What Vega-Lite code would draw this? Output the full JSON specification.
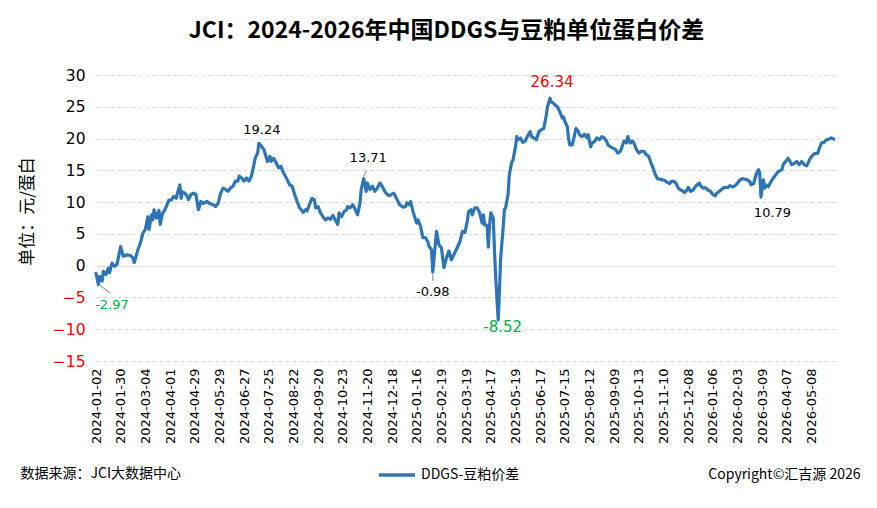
{
"$schema": "https://vega.github.io/schema/vega-lite/v6.json",
"width": 739,
"height": 286,
"autosize": {"type": "none"},
"padding": {"left": 96, "top": 75, "right": 42, "bottom": 147},
"background": "white",
"title": {"text": "JCI：2024-2026年中国DDGS与豆粕单位蛋白价差", "font": "Noto Sans CJK SC", "fontSize": 23, "fontWeight": "bold", "color": "#000000", "anchor": "middle", "dx": -19, "offset": 25},
"config": {"view": {"stroke": null},
 "axisY": {"values": [-15,-10,-5,0,5,10,15,20,25,30], "labelOverlap": false, "labelSeparation": -30, "labelFont": "DejaVu Sans", "labelFontSize": 15.5,
 "labelPadding": 11, "ticks": false, "domain": false, "grid": true, "gridColor": "#D9D9D9", "gridWidth": 1,
 "titleFont": "Noto Sans CJK SC", "titleFontSize": 17, "titleFontWeight": "normal", "titleColor": "#000000", "titleX": -69, "titleY": 136, "titleBaseline": "middle", "titleAlign": "center"}},
"resolve": {"axis": {"x": "independent"}},
"layer": [
{
"data": {"values": [
{"t":0,"v":-1.2},{"t":2,"v":-2.97},{"t":3,"v":-1.7},{"t":5,"v":-2.4},{"t":6,"v":-0.9},{"t":8,"v":-1.4},{"t":10,"v":-0.4},{"t":11,"v":-1.1},{"t":13,"v":0.4},{"t":15,"v":-0.1},{"t":17,"v":0.2},{"t":20,"v":3.0},{"t":22,"v":1.5},{"t":25,"v":1.7},{"t":28,"v":1.6},{"t":30,"v":1.2},{"t":31,"v":0.5},{"t":34,"v":2.5},{"t":36,"v":3.6},{"t":38,"v":5.1},{"t":40,"v":5.7},{"t":42,"v":7.7},{"t":43,"v":5.7},{"t":45,"v":8.0},{"t":46,"v":7.2},{"t":47,"v":8.8},{"t":49,"v":7.5},{"t":51,"v":8.7},{"t":52,"v":6.5},{"t":54,"v":8.3},{"t":55,"v":8.5},{"t":57,"v":9.3},{"t":59,"v":10.3},{"t":61,"v":10.3},{"t":63,"v":10.9},{"t":65,"v":10.6},{"t":66,"v":11.4},{"t":68,"v":12.7},{"t":69,"v":10.6},{"t":70,"v":11.6},{"t":72,"v":11.4},{"t":74,"v":10.9},{"t":75,"v":10.4},{"t":77,"v":11.2},{"t":79,"v":11.4},{"t":81,"v":11.2},{"t":83,"v":8.8},{"t":85,"v":10.1},{"t":87,"v":9.8},{"t":90,"v":10.1},{"t":92,"v":9.8},{"t":95,"v":9.6},{"t":97,"v":9.3},{"t":99,"v":9.8},{"t":101,"v":11.4},{"t":103,"v":12.2},{"t":105,"v":12.0},{"t":107,"v":11.7},{"t":109,"v":12.2},{"t":111,"v":12.5},{"t":113,"v":13.3},{"t":115,"v":13.3},{"t":116,"v":14.1},{"t":118,"v":13.8},{"t":120,"v":13.3},{"t":122,"v":13.8},{"t":124,"v":13.3},{"t":126,"v":14.1},{"t":128,"v":15.9},{"t":129,"v":16.9},{"t":131,"v":17.7},{"t":132,"v":19.24},{"t":134,"v":18.8},{"t":136,"v":18.3},{"t":137,"v":17.7},{"t":139,"v":16.4},{"t":141,"v":17.2},{"t":142,"v":16.4},{"t":144,"v":16.9},{"t":146,"v":16.2},{"t":148,"v":15.4},{"t":150,"v":15.6},{"t":152,"v":14.6},{"t":155,"v":13.5},{"t":157,"v":12.7},{"t":159,"v":12.5},{"t":161,"v":11.2},{"t":163,"v":10.1},{"t":165,"v":9.1},{"t":168,"v":8.4},{"t":170,"v":8.8},{"t":171,"v":8.6},{"t":174,"v":10.1},{"t":175,"v":10.6},{"t":177,"v":10.4},{"t":178,"v":9.1},{"t":180,"v":9.3},{"t":182,"v":8.3},{"t":184,"v":7.7},{"t":186,"v":7.2},{"t":188,"v":7.5},{"t":190,"v":7.3},{"t":192,"v":7.9},{"t":194,"v":7.2},{"t":196,"v":6.5},{"t":197,"v":8.3},{"t":199,"v":7.7},{"t":201,"v":8.5},{"t":203,"v":8.8},{"t":204,"v":9.3},{"t":206,"v":9.1},{"t":208,"v":9.6},{"t":210,"v":8.9},{"t":212,"v":8.0},{"t":214,"v":9.9},{"t":215,"v":12.0},{"t":217,"v":13.71},{"t":219,"v":11.7},{"t":220,"v":13.0},{"t":222,"v":12.0},{"t":224,"v":12.5},{"t":226,"v":11.7},{"t":228,"v":12.2},{"t":230,"v":13.0},{"t":232,"v":12.5},{"t":234,"v":11.7},{"t":236,"v":11.2},{"t":238,"v":11.0},{"t":241,"v":11.4},{"t":242,"v":11.2},{"t":244,"v":10.4},{"t":246,"v":9.6},{"t":249,"v":9.2},{"t":251,"v":9.3},{"t":252,"v":9.9},{"t":254,"v":9.6},{"t":255,"v":10.1},{"t":257,"v":8.5},{"t":259,"v":7.2},{"t":260,"v":6.7},{"t":261,"v":7.2},{"t":263,"v":6.2},{"t":265,"v":4.4},{"t":267,"v":4.4},{"t":269,"v":3.8},{"t":270,"v":3.0},{"t":272,"v":2.5},{"t":273,"v":-0.98},{"t":275,"v":3.3},{"t":276,"v":5.4},{"t":278,"v":3.3},{"t":280,"v":2.8},{"t":281,"v":1.2},{"t":282,"v":-0.3},{"t":284,"v":1.2},{"t":286,"v":2.3},{"t":287,"v":1.7},{"t":288,"v":0.9},{"t":290,"v":1.7},{"t":292,"v":2.5},{"t":295,"v":3.8},{"t":297,"v":5.4},{"t":299,"v":5.2},{"t":301,"v":7.0},{"t":302,"v":8.5},{"t":304,"v":8.8},{"t":305,"v":8.0},{"t":307,"v":9.1},{"t":309,"v":9.1},{"t":311,"v":8.3},{"t":313,"v":6.7},{"t":314,"v":8.0},{"t":315,"v":6.4},{"t":317,"v":6.4},{"t":318,"v":2.9},{"t":319,"v":6.4},{"t":320,"v":8.3},{"t":322,"v":7.5},{"t":323,"v":2.3},{"t":324,"v":-1.9},{"t":326,"v":-8.52},{"t":327,"v":-4.0},{"t":328,"v":1.2},{"t":330,"v":5.9},{"t":331,"v":8.8},{"t":332,"v":9.1},{"t":334,"v":11.2},{"t":335,"v":14.3},{"t":337,"v":16.3},{"t":338,"v":16.6},{"t":340,"v":18.7},{"t":341,"v":20.3},{"t":342,"v":19.8},{"t":344,"v":20.1},{"t":346,"v":19.4},{"t":348,"v":19.6},{"t":349,"v":20.1},{"t":351,"v":20.8},{"t":352,"v":21.1},{"t":353,"v":20.3},{"t":355,"v":20.1},{"t":357,"v":19.8},{"t":359,"v":21.1},{"t":361,"v":21.4},{"t":363,"v":21.6},{"t":365,"v":23.7},{"t":366,"v":25.0},{"t":368,"v":26.34},{"t":369,"v":25.8},{"t":371,"v":25.5},{"t":374,"v":25.0},{"t":376,"v":24.2},{"t":378,"v":23.2},{"t":379,"v":23.4},{"t":380,"v":22.7},{"t":382,"v":21.9},{"t":383,"v":20.1},{"t":384,"v":19.0},{"t":386,"v":19.0},{"t":388,"v":20.6},{"t":389,"v":21.6},{"t":391,"v":21.1},{"t":392,"v":20.6},{"t":394,"v":20.3},{"t":396,"v":20.7},{"t":398,"v":20.1},{"t":399,"v":20.6},{"t":401,"v":18.7},{"t":402,"v":19.3},{"t":404,"v":19.5},{"t":406,"v":20.1},{"t":408,"v":19.8},{"t":410,"v":20.3},{"t":412,"v":20.1},{"t":414,"v":19.5},{"t":415,"v":19.0},{"t":417,"v":18.7},{"t":419,"v":18.5},{"t":421,"v":18.3},{"t":423,"v":17.7},{"t":425,"v":18.0},{"t":426,"v":18.5},{"t":428,"v":19.6},{"t":430,"v":19.3},{"t":431,"v":20.3},{"t":433,"v":19.3},{"t":435,"v":19.6},{"t":436,"v":19.3},{"t":438,"v":18.3},{"t":440,"v":17.7},{"t":442,"v":18.0},{"t":444,"v":18.0},{"t":446,"v":17.5},{"t":448,"v":17.2},{"t":450,"v":16.1},{"t":452,"v":15.1},{"t":453,"v":14.5},{"t":455,"v":13.7},{"t":457,"v":13.6},{"t":459,"v":13.5},{"t":461,"v":13.4},{"t":463,"v":13.1},{"t":465,"v":12.9},{"t":466,"v":13.2},{"t":468,"v":13.3},{"t":470,"v":13.0},{"t":472,"v":12.2},{"t":474,"v":11.9},{"t":476,"v":11.7},{"t":477,"v":11.5},{"t":479,"v":11.9},{"t":480,"v":12.3},{"t":482,"v":11.7},{"t":484,"v":11.9},{"t":485,"v":12.2},{"t":487,"v":12.7},{"t":489,"v":13.0},{"t":490,"v":12.6},{"t":492,"v":12.2},{"t":494,"v":12.3},{"t":496,"v":11.9},{"t":498,"v":11.7},{"t":500,"v":11.2},{"t":502,"v":11.0},{"t":503,"v":11.4},{"t":506,"v":11.8},{"t":507,"v":12.0},{"t":509,"v":12.3},{"t":512,"v":12.3},{"t":514,"v":12.6},{"t":516,"v":12.4},{"t":518,"v":12.6},{"t":520,"v":13.0},{"t":522,"v":13.5},{"t":524,"v":13.7},{"t":526,"v":13.6},{"t":528,"v":13.5},{"t":530,"v":13.2},{"t":531,"v":12.7},{"t":533,"v":12.9},{"t":535,"v":14.3},{"t":537,"v":15.1},{"t":538,"v":14.6},{"t":539,"v":10.79},{"t":541,"v":13.5},{"t":542,"v":12.2},{"t":543,"v":12.7},{"t":545,"v":12.4},{"t":547,"v":13.2},{"t":549,"v":13.8},{"t":551,"v":14.3},{"t":553,"v":14.8},{"t":556,"v":15.1},{"t":557,"v":15.9},{"t":559,"v":16.4},{"t":561,"v":16.9},{"t":562,"v":16.6},{"t":564,"v":15.9},{"t":566,"v":16.1},{"t":568,"v":16.4},{"t":570,"v":15.9},{"t":572,"v":16.4},{"t":574,"v":15.9},{"t":576,"v":15.7},{"t":577,"v":16.1},{"t":579,"v":16.9},{"t":580,"v":17.2},{"t":582,"v":17.6},{"t":585,"v":17.7},{"t":586,"v":18.3},{"t":588,"v":19.3},{"t":590,"v":19.4},{"t":592,"v":19.8},{"t":594,"v":19.9},{"t":596,"v":20.1},{"t":598,"v":19.9}
]},
"mark": {"type": "line", "strokeWidth": 3.2, "strokeJoin": "round", "strokeCap": "round"},
"encoding": {
"x": {"field": "t", "type": "quantitative", "scale": {"domain": [0, 599], "nice": false, "zero": false},
 "axis": {"orient": "bottom", "values": [0,20,40,60,80,100,120,140,160,180,200,220,240,260,280,300,320,340,360,380,400,420,440,460,480,500,520,540,560,580],
 "labelExpr": "['2024-01-02','2024-01-30','2024-03-04','2024-04-01','2024-04-29','2024-05-29','2024-06-27','2024-07-25','2024-08-22','2024-09-20','2024-10-23','2024-11-20','2024-12-18','2025-01-16','2025-02-19','2025-03-19','2025-04-17','2025-05-19','2025-06-17','2025-07-15','2025-08-12','2025-09-09','2025-10-13','2025-11-10','2025-12-08','2026-01-06','2026-02-03','2026-03-09','2026-04-07','2026-05-08'][round(datum.value/20)]",
 "labelAngle": 270, "labelAlign": "right", "labelBaseline": "middle", "labelFont": "DejaVu Sans", "labelFontSize": 13, "labelColor": "#000000", "labelPadding": 7, "labelOverlap": false, "labelFlush": false, "labelBound": false,
 "ticks": false, "domain": false, "grid": false,
 "title": "数据来源：JCI大数据中心", "titleX": -76, "titleY": 112, "titleAlign": "left", "titleBaseline": "middle", "titleFont": "Noto Sans CJK SC", "titleFontSize": 14, "titleFontWeight": "normal", "titleColor": "#000000"}},
"y": {"field": "v", "type": "quantitative", "scale": {"domain": [-15, 30], "nice": false, "zero": false},
 "axis": {"title": "单位：元/蛋白", "labelOverlap": false,
 "labelColor": {"condition": {"test": "datum.value < 0", "value": "#FF0000"}, "value": "#000000"},
 "gridDash": {"condition": {"test": "datum.value === 0", "value": [1, 0]}, "value": [4, 3]}}},
"color": {"datum": "DDGS-豆粕价差", "type": "nominal", "scale": {"range": ["#2E75B6"]},
 "legend": {"orient": "none", "legendX": 281, "legendY": 380, "title": null, "symbolType": "stroke", "symbolStrokeWidth": 3.5, "symbolSize": 1300, "labelFont": "Noto Sans CJK SC", "labelFontSize": 14, "labelColor": "#000000", "labelOffset": 4, "padding": 0}}
}
},
{
"data": {"values": [
{"t": 132, "v": 19.24, "label": "19.24"}
]},
"mark": {"type": "text", "font": "DejaVu Sans", "fontSize": 13, "color": "#000000", "dx": 3, "dy": -13.5, "baseline": "middle", "align": "center"},
"encoding": {
"x": {"field": "t", "type": "quantitative", "axis": {"orient": "top", "labels": false, "ticks": false, "domain": false, "grid": false, "title": "Copyright©汇吉源 2026", "titleX": 764, "titleY": 399, "titleAlign": "right", "titleBaseline": "middle", "titleFont": "Noto Sans CJK SC", "titleFontSize": 14, "titleFontWeight": "normal", "titleColor": "#000000"}},
"y": {"field": "v", "type": "quantitative"},
"text": {"field": "label"}
}
},
{
"data": {"values": [{"t": 217, "v": 13.71, "label": "13.71"}]},
"mark": {"type": "text", "font": "DejaVu Sans", "fontSize": 13, "color": "#000000", "dx": 4.5, "dy": -21, "baseline": "middle", "align": "center"},
"encoding": {"x": {"field": "t", "type": "quantitative", "axis": null}, "y": {"field": "v", "type": "quantitative"}, "text": {"field": "label"}}
},
{
"data": {"values": [{"t": 217, "v": 13.71}]},
"mark": {"type": "rule", "color": "#808080", "strokeWidth": 1, "yOffset": -2, "x2Offset": 3, "y2Offset": -8},
"encoding": {"x": {"field": "t", "type": "quantitative", "axis": null}, "y": {"field": "v", "type": "quantitative"}, "x2": {"field": "t"}, "y2": {"field": "v"}}
},
{
"data": {"values": [{"t": 273, "v": -0.98, "label": "-0.98"}]},
"mark": {"type": "text", "font": "DejaVu Sans", "fontSize": 13, "color": "#000000", "dx": 0, "dy": 20, "baseline": "middle", "align": "center"},
"encoding": {"x": {"field": "t", "type": "quantitative", "axis": null}, "y": {"field": "v", "type": "quantitative"}, "text": {"field": "label"}}
},
{
"data": {"values": [{"t": 273, "v": -0.98}]},
"mark": {"type": "rule", "color": "#808080", "strokeWidth": 1, "yOffset": 2, "y2Offset": 9},
"encoding": {"x": {"field": "t", "type": "quantitative", "axis": null}, "y": {"field": "v", "type": "quantitative"}, "x2": {"field": "t"}, "y2": {"field": "v"}}
},
{
"data": {"values": [{"t": 2, "v": -2.97, "label": "-2.97"}]},
"mark": {"type": "text", "font": "DejaVu Sans", "fontSize": 13, "color": "#00B050", "dx": 13.5, "dy": 20, "baseline": "middle", "align": "center"},
"encoding": {"x": {"field": "t", "type": "quantitative", "axis": null}, "y": {"field": "v", "type": "quantitative"}, "text": {"field": "label"}}
},
{
"data": {"values": [{"t": 2, "v": -2.97}]},
"mark": {"type": "rule", "color": "#808080", "strokeWidth": 1, "xOffset": 2, "yOffset": 1, "x2Offset": 12, "y2Offset": 9},
"encoding": {"x": {"field": "t", "type": "quantitative", "axis": null}, "y": {"field": "v", "type": "quantitative"}, "x2": {"field": "t"}, "y2": {"field": "v"}}
},
{
"data": {"values": [{"t": 368, "v": 26.34, "label": "26.34"}]},
"mark": {"type": "text", "font": "DejaVu Sans", "fontSize": 15, "color": "#FF0000", "dx": 2, "dy": -16.5, "baseline": "middle", "align": "center"},
"encoding": {"x": {"field": "t", "type": "quantitative", "axis": null}, "y": {"field": "v", "type": "quantitative"}, "text": {"field": "label"}}
},
{
"data": {"values": [{"t": 326, "v": -8.52, "label": "-8.52"}]},
"mark": {"type": "text", "font": "DejaVu Sans", "fontSize": 15, "color": "#00B050", "dx": 4.5, "dy": 7.5, "baseline": "middle", "align": "center"},
"encoding": {"x": {"field": "t", "type": "quantitative", "axis": null}, "y": {"field": "v", "type": "quantitative"}, "text": {"field": "label"}}
},
{
"data": {"values": [{"t": 539, "v": 10.79, "label": "10.79"}]},
"mark": {"type": "text", "font": "DejaVu Sans", "fontSize": 13, "color": "#000000", "dx": 11.5, "dy": 15.5, "baseline": "middle", "align": "center"},
"encoding": {"x": {"field": "t", "type": "quantitative", "axis": null}, "y": {"field": "v", "type": "quantitative"}, "text": {"field": "label"}}
}
]
}
